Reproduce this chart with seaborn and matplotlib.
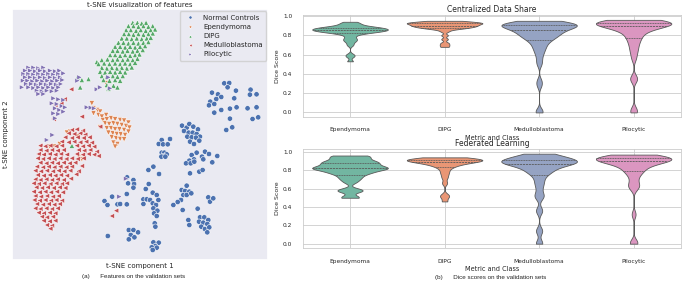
import numpy as np
import pandas as pd
import matplotlib
matplotlib.use("Agg")
import matplotlib.pyplot as plt
import seaborn as sns

# t-SNE embedding (arbitrary units, y grows downward)
normal_pts = [
    (673, 250), (688, 249), (683, 262), (708, 272), (752, 269), (770, 283), (750, 284), (636, 278), (654, 283),
    (664, 291), (649, 297), (631, 305), (627, 316), (643, 312), (703, 295), (690, 326), (710, 322), (743, 325),
    (770, 322), (758, 357), (775, 352), (664, 330), (643, 338), (690, 356), (697, 382), (679, 390),
    (546, 377), (560, 383), (568, 372), (580, 380), (594, 388), (552, 393), (566, 398), (578, 398), (590, 402),
    (600, 410), (562, 410), (575, 412), (588, 413), (570, 425), (582, 432), (598, 422),
    (615, 455), (627, 462), (606, 470), (590, 458), (575, 465), (582, 478), (568, 482), (558, 490), (572, 490),
    (583, 485), (610, 478), (637, 487), (652, 468), (570, 520), (598, 515), (608, 510),
    (485, 420), (510, 417), (476, 432), (489, 433), (503, 433), (485, 458), (493, 458), (500, 463), (490, 468),
    (484, 470), (496, 470), (460, 500), (445, 510), (477, 522),
    (381, 532), (400, 540), (384, 550), (402, 552), (400, 563), (380, 582),
    (446, 552), (437, 567), (458, 578), (470, 585), (430, 598), (440, 598), (450, 600), (458, 610), (468, 615),
    (460, 625), (472, 632), (430, 612), (475, 600),
    (560, 557), (545, 570), (555, 573), (568, 575), (550, 585), (560, 585), (543, 600), (574, 580),
    (533, 606), (520, 615), (548, 630), (593, 626), (625, 592), (630, 605), (640, 595), (565, 660),
    (600, 652), (613, 652), (625, 660), (597, 665), (610, 668), (622, 672), (604, 680), (615, 687), (628, 682),
    (622, 697), (568, 675),
    (313, 603), (322, 615), (336, 590), (352, 613), (380, 613), (360, 612),
    (386, 690), (400, 690), (414, 697), (392, 705), (386, 718), (403, 712), (323, 708),
    (460, 727), (476, 728), (466, 738), (455, 742), (470, 743), (458, 750),
    (464, 670), (466, 680), (462, 640), (470, 648),
]
epen_pts = [
    (275, 310), (280, 325), (292, 330), (300, 335), (280, 340), (295, 345), (305, 350), (318, 345), (308, 360),
    (320, 358), (333, 355), (345, 358), (360, 360), (372, 362), (385, 368), (315, 370), (327, 372), (340, 370),
    (352, 372), (365, 375), (378, 378), (388, 383), (300, 382), (320, 385), (333, 385), (345, 388), (358, 388),
    (372, 390), (385, 395), (325, 398), (338, 400), (350, 402), (362, 403), (375, 405), (335, 412), (348, 415),
    (360, 417), (372, 418), (340, 428), (352, 432), (345, 440),
    (148, 440), (162, 440), (178, 432), (200, 398), (210, 395), (232, 410), (245, 478), (236, 470), (318, 250),
]
dipg_pts = [
    (398, 68), (412, 68), (425, 70), (438, 68),
    (385, 78), (400, 78), (415, 80), (430, 78), (445, 80), (458, 78),
    (378, 90), (392, 90), (408, 92), (422, 90), (437, 92), (452, 90), (465, 88),
    (372, 102), (386, 102), (400, 104), (415, 102), (430, 104), (445, 102), (458, 100),
    (365, 115), (380, 115), (395, 117), (410, 115), (425, 117), (440, 115), (452, 113),
    (355, 128), (370, 128), (385, 130), (400, 128), (415, 130), (430, 128), (445, 126),
    (345, 140), (360, 140), (375, 142), (390, 140), (405, 142), (420, 140), (435, 138),
    (338, 152), (352, 152), (368, 154), (382, 152), (398, 154), (412, 152), (428, 150),
    (330, 165), (345, 165), (360, 167), (375, 165), (390, 167), (405, 165), (418, 163),
    (290, 186), (305, 180), (322, 178), (338, 180), (352, 178), (368, 180), (383, 178), (398, 180), (412, 176),
    (295, 192), (312, 190), (328, 192), (345, 190), (360, 192), (375, 190), (390, 192), (405, 188),
    (305, 203), (320, 205), (335, 203), (350, 205), (365, 203), (380, 205), (395, 202),
    (300, 215), (315, 217), (330, 215), (345, 217), (360, 215), (375, 217),
    (305, 228), (320, 230), (338, 228), (352, 230), (368, 228),
    (310, 240), (328, 242), (345, 240), (360, 242),
    (320, 255), (340, 257), (352, 262), (325, 266),
    (232, 232), (245, 240), (265, 237), (240, 262), (215, 437),
]
medullo_pts = [
    (215, 390), (230, 388), (248, 392),
    (205, 400), (222, 402), (240, 400), (255, 404),
    (195, 412), (215, 414), (232, 412), (250, 414), (268, 412),
    (185, 425), (205, 427), (222, 425), (240, 427), (258, 425), (275, 428),
    (120, 437), (135, 439), (150, 437), (168, 439), (185, 437), (230, 437), (248, 439), (265, 437), (282, 440),
    (120, 450), (138, 452), (155, 450), (172, 452), (190, 450), (235, 450), (252, 452), (270, 450), (290, 455),
    (115, 462), (130, 464), (148, 462), (165, 464), (182, 462), (200, 464), (230, 462), (248, 464), (265, 462),
    (282, 464), (295, 468),
    (112, 475), (128, 477), (145, 475), (162, 477), (180, 475), (198, 477), (215, 475), (232, 477), (250, 475),
    (120, 488), (138, 490), (155, 488), (172, 490), (190, 488), (208, 490), (225, 488),
    (110, 500), (128, 502), (145, 500), (162, 502), (180, 500), (198, 502), (215, 500), (245, 498),
    (105, 512), (122, 514), (140, 512), (158, 514), (175, 512), (192, 514), (210, 512), (235, 514),
    (112, 525), (130, 527), (148, 525), (165, 527), (182, 525), (200, 527), (228, 523),
    (105, 538), (120, 540), (138, 538), (155, 540), (172, 538), (190, 540), (212, 536),
    (100, 550), (115, 552), (132, 550), (150, 552), (168, 550), (185, 552), (200, 550),
    (108, 562), (125, 564), (142, 562), (160, 564), (178, 562), (195, 564),
    (100, 575), (118, 577), (135, 575), (152, 577), (170, 575), (188, 577),
    (105, 588), (122, 590), (140, 588), (158, 590), (175, 588),
    (102, 600), (118, 602), (135, 600), (152, 602), (168, 600), (185, 602),
    (110, 612), (128, 614), (145, 612), (162, 614), (178, 612),
    (105, 625), (120, 627), (138, 625), (155, 627), (172, 625),
    (115, 638), (130, 640), (148, 638), (165, 640),
    (125, 650), (140, 652), (158, 650),
    (130, 662), (148, 664), (165, 662),
    (140, 675), (155, 677), (150, 686),
    (348, 632), (335, 648), (245, 350), (213, 268), (165, 315), (183, 310), (160, 357), (193, 298), (300, 380),
]
pilo_pts = [
    (85, 203), (100, 203), (115, 205), (130, 203),
    (75, 212), (90, 212), (105, 214), (120, 212), (135, 214), (150, 212), (165, 214), (178, 212),
    (70, 222), (85, 222), (100, 224), (115, 222), (130, 224), (145, 222), (160, 224), (175, 222), (190, 220),
    (75, 232), (90, 232), (105, 234), (120, 232), (135, 234), (150, 232), (165, 234), (180, 232),
    (68, 242), (82, 242), (97, 244), (112, 242), (127, 244), (142, 242), (157, 244), (172, 242), (187, 240),
    (78, 252), (93, 252), (108, 254), (123, 252), (138, 254), (153, 252), (168, 254), (182, 252),
    (65, 262), (85, 262), (100, 264), (115, 262), (130, 264), (145, 262), (160, 264), (175, 262),
    (110, 272), (125, 274), (140, 272), (155, 274), (170, 272),
    (115, 282), (130, 282),
    (160, 295), (175, 298), (190, 300), (155, 310), (170, 312), (185, 318), (195, 322), (165, 325), (178, 330),
    (190, 335), (160, 340), (175, 342), (165, 355),
    (232, 242), (238, 232), (290, 268), (300, 262), (260, 322), (272, 323), (282, 325), (157, 405), (325, 232),
    (330, 265), (358, 590), (378, 536), (140, 420),
]
classes = ["Normal Controls", "Ependymoma", "DIPG", "Medulloblastoma", "Pilocytic"]
class_pts = [normal_pts, epen_pts, dipg_pts, medullo_pts, pilo_pts]
markers = ["o", "v", "^", "<", ">"]

# dice scores per class
violin_classes = ["Ependymoma", "DIPG", "Medulloblastoma", "Pilocytic"]
central_epen = [0.53, 0.58, 0.60, 0.70, 0.73, 0.75, 0.76, 0.78, 0.80, 0.82, 0.82, 0.83, 0.83, 0.84, 0.84, 0.84,
                0.85, 0.85, 0.85, 0.85, 0.86, 0.86, 0.86, 0.86, 0.87, 0.87, 0.87, 0.88, 0.88, 0.88, 0.88, 0.89,
                0.89, 0.90, 0.91, 0.92, 0.93, 0.94]
central_dipg = [0.68, 0.70, 0.72, 0.76, 0.80, 0.84, 0.86, 0.87, 0.87, 0.88, 0.88, 0.88, 0.89, 0.89, 0.89, 0.90,
                0.90, 0.90, 0.90, 0.91, 0.91, 0.91, 0.92, 0.92, 0.92, 0.92, 0.93, 0.93, 0.93, 0.93, 0.93, 0.94,
                0.94, 0.94, 0.95, 0.95]
central_medullo = [0.0, 0.02, 0.28, 0.33, 0.50, 0.55, 0.60, 0.63, 0.66, 0.68, 0.70, 0.72, 0.74, 0.75, 0.76, 0.77,
                   0.78, 0.79, 0.80, 0.80, 0.81, 0.82, 0.82, 0.83, 0.84, 0.84, 0.85, 0.86, 0.86, 0.87, 0.87, 0.88,
                   0.88, 0.89, 0.89, 0.89, 0.90, 0.90, 0.90, 0.91, 0.91, 0.91, 0.91, 0.92, 0.92, 0.92, 0.93, 0.93,
                   0.93, 0.94, 0.94, 0.95, 0.95]
central_pilo = [0.0, 0.03, 0.34, 0.36, 0.56, 0.62, 0.66, 0.70, 0.73, 0.76, 0.78, 0.80, 0.82, 0.84, 0.85, 0.86,
                0.87, 0.88, 0.89, 0.89, 0.90, 0.90, 0.91, 0.91, 0.92, 0.92, 0.92, 0.93, 0.93, 0.93, 0.93, 0.93,
                0.94, 0.94, 0.94, 0.94, 0.95, 0.95, 0.95, 0.96]
fed_epen = [0.50, 0.51, 0.57, 0.58, 0.59, 0.67, 0.70, 0.72, 0.74, 0.76, 0.77, 0.78, 0.79, 0.80, 0.81, 0.82,
            0.82, 0.82, 0.83, 0.83, 0.84, 0.85, 0.86, 0.87, 0.88, 0.88, 0.89, 0.90, 0.91, 0.92, 0.94, 0.95,
            0.96, 0.96]
fed_dipg = [0.46, 0.51, 0.53, 0.66, 0.72, 0.76, 0.79, 0.82, 0.84, 0.85, 0.86, 0.87, 0.88, 0.88, 0.89,
            0.89, 0.90, 0.90, 0.90, 0.91, 0.91, 0.91, 0.91, 0.92, 0.92, 0.92, 0.92, 0.93, 0.93, 0.93, 0.94]
fed_medullo = [0.0, 0.01, 0.13, 0.15, 0.35, 0.37, 0.50, 0.52, 0.54, 0.60, 0.64, 0.67, 0.70, 0.73, 0.76, 0.77,
               0.78, 0.79, 0.80, 0.81, 0.82, 0.83, 0.84, 0.85, 0.86, 0.86, 0.87, 0.87, 0.88, 0.88, 0.88, 0.88,
               0.89, 0.89, 0.89, 0.89, 0.90, 0.90, 0.90, 0.90, 0.91, 0.91, 0.91, 0.92, 0.92, 0.93, 0.93, 0.94,
               0.95, 0.95, 0.96, 0.97, 0.97, 0.98, 0.98]
fed_pilo = [0.0, 0.02, 0.32, 0.60, 0.63, 0.65, 0.70, 0.74, 0.77, 0.79, 0.80, 0.82, 0.84, 0.85, 0.86,
            0.87, 0.88, 0.89, 0.89, 0.90, 0.90, 0.91, 0.91, 0.92, 0.92, 0.92, 0.93, 0.93, 0.93, 0.93, 0.94,
            0.94, 0.94, 0.95, 0.95, 0.96, 0.96, 0.97]


def long_frame(groups):
    rows = []
    for name, vals in zip(violin_classes, groups):
        for v in vals:
            rows.append((name, v))
    return pd.DataFrame(rows, columns=["Metric and Class", "Dice Score"])


sns.set_theme(style="darkgrid")
plt.rcParams['font.family'] = ['DejaVu Sans']

fig = plt.figure(figsize=(6.85, 2.82), dpi=100)

# (a) t-SNE scatter
ax0 = fig.add_axes([0.0175, 0.078, 0.374, 0.889])
tsne = pd.DataFrame(
    [(x, y, c) for c, pts in zip(classes, class_pts) for x, y in pts],
    columns=["x", "y", "label"])
sns.scatterplot(data=tsne, x="x", y="y", hue="label", style="label", hue_order=classes, style_order=classes,
                markers=dict(zip(classes, markers)), palette="deep", s=15, linewidth=0.4,
                edgecolor="white", ax=ax0)
ax0.set_xlim(35, 805)
ax0.set_ylim(780, 28)
ax0.set_xticks([])
ax0.set_yticks([])
ax0.set_title("t-SNE visualization of features", fontsize=5, pad=1.5)
ax0.set_xlabel("t-SNE component 1", fontsize=5, labelpad=2)
ax0.set_ylabel("t-SNE component 2", fontsize=5, labelpad=2)
leg = ax0.legend(loc="upper right", fontsize=5, markerscale=0.6, labelspacing=0.45, handletextpad=0.8,
                 borderpad=0.5, borderaxespad=0.3)

# (b) violins
with sns.axes_style("whitegrid"):
    ax1 = fig.add_axes([0.442, 0.585, 0.552, 0.361])
    ax2 = fig.add_axes([0.442, 0.12, 0.552, 0.351])

central = long_frame([central_epen, central_dipg, central_medullo, central_pilo])
federated = long_frame([fed_epen, fed_dipg, fed_medullo, fed_pilo])

for ax, df, title in [(ax1, central, "Centralized Data Share"), (ax2, federated, "Federated Learning")]:
    sns.violinplot(data=df, x="Metric and Class", y="Dice Score", hue="Metric and Class", palette="Set2",
                   inner="quart", cut=0, bw_adjust=0.35, density_norm="width", linewidth=0.6,
                   legend=False, ax=ax)
    ax.set_title(title, fontsize=5.5, pad=2)
    ax.set_xlabel("Metric and Class", fontsize=4.7, labelpad=1.5)
    ax.set_ylabel("Dice Score", fontsize=4.5, labelpad=2.5)
    ax.tick_params(axis="both", labelsize=4.2, pad=1.5)
    ax.set_yticks([0.0, 0.2, 0.4, 0.6, 0.8, 1.0])
    ax.grid(linewidth=0.6)
    for sp in ax.spines.values():
        sp.set_linewidth(0.6)

# captions
fig.text(0.12, 0.015, "(a)      Features on the validation sets", fontsize=4.5, family="Liberation Sans")
fig.text(0.635, 0.01, "(b)      Dice scores on the validation sets", fontsize=4.5, family="Liberation Sans")

fig.savefig("out.png", dpi=100)
